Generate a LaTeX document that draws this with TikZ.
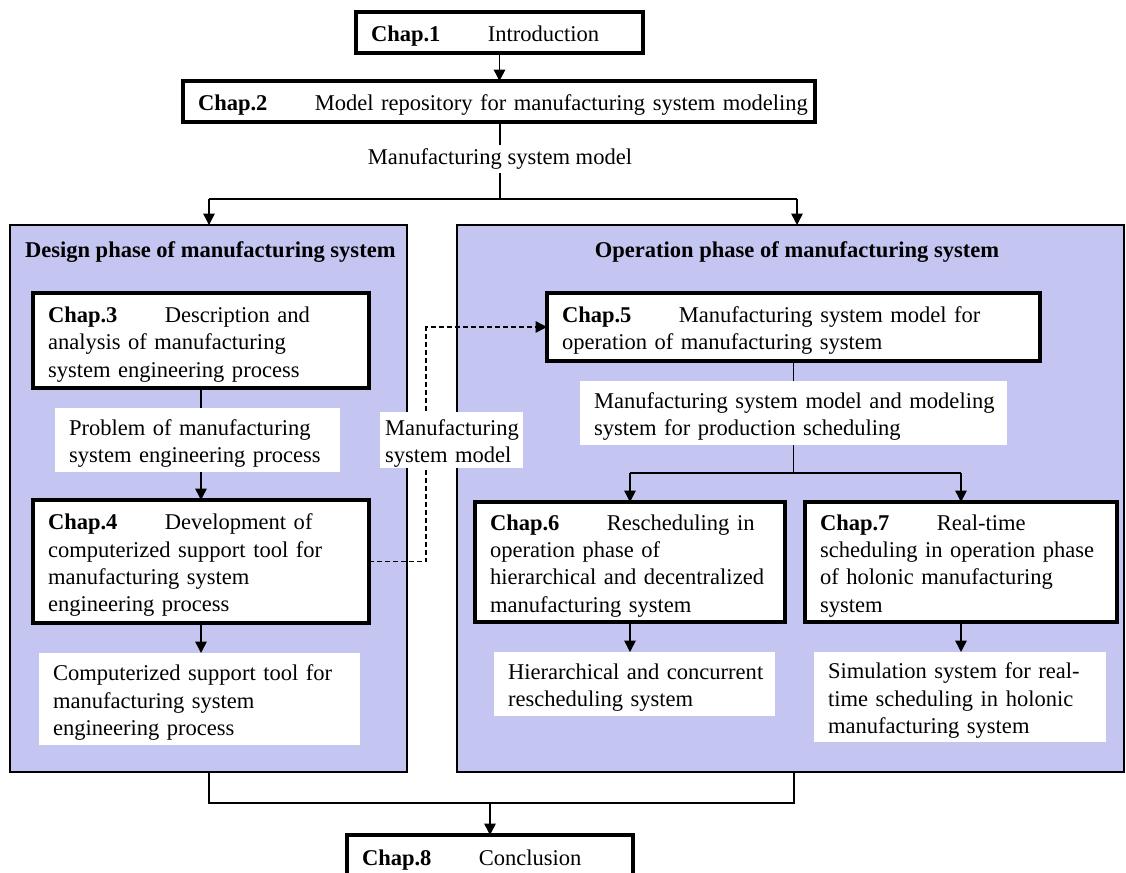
\documentclass[tikz,border=0pt]{standalone}
\usepackage{fontspec}
\setmainfont{Liberation Serif}
\usetikzlibrary{arrows.meta}
\definecolor{panel}{RGB}{196,197,240}
\newcommand\chapno[1]{\textbf{Chap.#1}\hspace{2.1em}}
\hyphenpenalty=10000
\exhyphenpenalty=10000

\begin{document}
\begin{tikzpicture}[x=0.75pt,y=-0.75pt,
  font=\fontsize{16.9}{20.5}\selectfont,
  every node/.style={outer sep=0pt},
  inset/.style={execute at begin node={\leftskip=#1\rule{0pt}{17.5pt}}},
  chapbox/.style={draw, line width=2.7pt, fill=white, anchor=north west,
    align=left, inner sep=0pt, inset=11.25pt},
  topbox/.style={chapbox, line width=2.3pt},
  textbox/.style={fill=white, anchor=north west, align=left,
    inner sep=0pt, inset=10.5pt},
  panelbox/.style={draw, line width=1.1pt, fill=panel, anchor=north west,
    inner sep=0pt},
  link/.style={line width=1.1pt},
  tip/.style={-{Triangle[length=8.5pt,width=8.5pt]}},
  arrow/.style={link, tip},
  dashlink/.style={link, dash pattern=on 3.75pt off 2.25pt, tip}
]
\useasboundingbox (0,0) rectangle (1126,872);
\fill[white] (0,0) rectangle (1126,872);

% phase panels
\node[panelbox, minimum width=297.75pt, minimum height=410.25pt] (dp) at (10,225) {};
\node[panelbox, minimum width=500.25pt, minimum height=410.25pt] (op) at (457,225) {};
\node[anchor=west, inner sep=0pt, font=\fontsize{16.9}{20.5}\selectfont\bfseries] (dtitle) at (25,252)
  {Design phase of manufacturing system};
\node[inner sep=0pt, font=\fontsize{16.9}{20.5}\selectfont\bfseries] (otitle) at (797,252)
  {Operation phase of manufacturing system};

% top chapters
\node[topbox, minimum width=215.25pt, minimum height=30.75pt, text width=215.25pt] (c1) at (356,12)
  {\chapno{1}Introduction};
\node[topbox, minimum width=474pt, minimum height=30.75pt, text width=474pt] (c2) at (183,81)
  {\chapno{2}Model repository for manufacturing system modeling};
\node[inner xsep=2pt, inner ysep=3pt] (msm) at (500,159) {Manufacturing system model};

% design phase
\node[chapbox, minimum width=252pt, minimum height=71.25pt, text width=252pt] (c3) at (33,293)
  {\chapno{3}Description and\\analysis of manufacturing\\system engineering process};
\node[textbox, minimum width=213.75pt, minimum height=48pt, text width=213.75pt] (p3) at (55,408)
  {Problem of manufacturing\\system engineering process};
\node[chapbox, minimum width=252pt, minimum height=92.25pt, text width=252pt] (c4) at (33,500)
  {\chapno{4}Development of\\computerized support tool for\\manufacturing system\\engineering process};
\node[textbox, minimum width=240.75pt, minimum height=69pt, text width=240.75pt] (t4) at (39,653)
  {Computerized support tool for\\manufacturing system\\engineering process};

% operation phase
\node[chapbox, minimum width=369.75pt, minimum height=51pt, text width=369.75pt] (c5) at (547,293)
  {\chapno{5}Manufacturing system model for\\operation of manufacturing system};
\node[textbox, minimum width=320.25pt, minimum height=48pt, text width=320.25pt] (m5) at (580,381)
  {Manufacturing system model and modeling\\system for production scheduling};
\node[chapbox, minimum width=232.5pt, minimum height=90pt, text width=232.5pt] (c6) at (475,502)
  {\chapno{6}Rescheduling in\\operation phase of\\hierarchical and decentralized\\manufacturing system};
\node[chapbox, minimum width=234pt, minimum height=90pt, text width=234pt] (c7) at (805,502)
  {\chapno{7}Real-time\\scheduling in operation phase\\of holonic manufacturing\\system};
\node[textbox, minimum width=210.75pt, minimum height=48pt, text width=210.75pt] (h6) at (494,652)
  {Hierarchical and concurrent\\rescheduling system};
\node[textbox, minimum width=219pt, minimum height=67.5pt, text width=219pt] (h7) at (814,652)
  {Simulation system for real-\\time scheduling in holonic\\manufacturing system};

% conclusion
\node[topbox, minimum width=214.5pt, minimum height=31.5pt, text width=214.5pt] (c8) at (347,835)
  {\chapno{8}Conclusion};

% junction points
\coordinate (sp) at (500,199);
\coordinate (tl) at (209,199);
\coordinate (tr) at (797,199);
\coordinate (s2) at (793,473);
\coordinate (dx) at (426,0);
\coordinate (bl) at (209,803);
\coordinate (br) at (794,803);

% top connectors
\draw[arrow] (c1.south) -- (c1.south |- c2.north);
\draw[link] (c2.south -| msm.north) -- (msm.north);
\draw[link] (msm.south) -- (sp);
\draw[link] (tl) -- (tr);
\draw[arrow] (tl) -- (tl |- dp.north);
\draw[arrow] (tr) -- (tr |- op.north);

% design phase connectors
\draw[link] (c3.south) -- (c3.south |- p3.north);
\draw[arrow] (c3.south |- p3.south) -- (c4.north);
\draw[arrow] (c4.south) -- (c4.south |- t4.north);

% operation phase connectors
\draw[link] (c5.south) -- (c5.south |- m5.north);
\draw[link] (c5.south |- m5.south) -- (c5.south |- s2);
\draw[link] (c6.north |- s2) -- (c7.north |- s2);
\draw[arrow] (c6.north |- s2) -- (c6.north);
\draw[arrow] (c7.north |- s2) -- (c7.north);
\draw[arrow] (c6.south) -- (c6.south |- h6.north);
\draw[arrow] (c7.south) -- (c7.south |- h7.north);

% model handed from design to operation
\draw[dashlink] (c4.east) -- (c4.east -| dx) |- (c5.west);
\node[textbox, minimum width=107.25pt, minimum height=39.75pt, text width=107.25pt,
  inset=3.75pt] (lab) at (380,412) {Manufacturing\\system model};

% bottom connectors
\draw[link] (bl |- dp.south) -- (bl) -- (br) -- (br |- op.south);
\draw[arrow] (c8.north |- bl) -- (c8.north);
\end{tikzpicture}
\end{document}
